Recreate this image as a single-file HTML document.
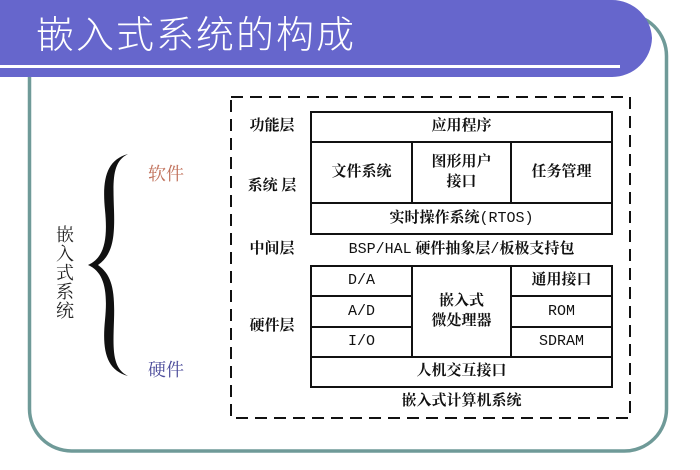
<!DOCTYPE html>
<html><head><meta charset="utf-8"><style>
body{margin:0;width:700px;height:470px;background:#fff;overflow:hidden;position:relative;font-family:"Liberation Serif","Noto Serif CJK SC",serif;}
.a{position:absolute}
.c{position:absolute;display:flex;align-items:center;justify-content:center;text-align:center;font-size:15px;color:#111;line-height:1.3;font-weight:bold}
.m{font-family:"Liberation Mono","Noto Serif CJK SC",monospace;font-weight:normal;font-size:15px}
</style></head><body>
<svg class="a" style="left:0;top:0" width="700" height="470">
<rect x="29.5" y="14" width="637" height="437" rx="42" fill="none" stroke="#6f9a98" stroke-width="3.5"/>
<path d="M0 0 H612 A40 40 0 0 1 652 38 A40 40 0 0 1 612 77 H0 Z" fill="#6666cc"/>
<rect x="0" y="65" width="620" height="3" fill="#fff"/>
<rect x="231" y="97" width="399" height="321" fill="none" stroke="#111" stroke-width="2" stroke-dasharray="12,7"/>
<g fill="none" stroke="#111" stroke-width="2">
<rect x="311" y="112" width="301" height="122"/>
<line x1="311" y1="142" x2="612" y2="142"/><line x1="311" y1="203" x2="612" y2="203"/>
<line x1="412" y1="142" x2="412" y2="203"/><line x1="511" y1="142" x2="511" y2="203"/>
<rect x="311" y="266" width="301" height="121"/>
<line x1="311" y1="357" x2="612" y2="357"/>
<line x1="412" y1="266" x2="412" y2="357"/><line x1="511" y1="266" x2="511" y2="357"/>
<line x1="311" y1="296" x2="412" y2="296"/><line x1="311" y1="327" x2="412" y2="327"/>
<line x1="511" y1="296" x2="612" y2="296"/><line x1="511" y1="327" x2="612" y2="327"/>
</g>
<path d="M128 154 C106 160 102 180 105 210 C108 240 104 258 88 265 C104 272 108 290 105 320 C102 350 106 370 128 376 C112 368 113 350 114 320 C115 290 112 275 98 265 C112 255 115 240 114 210 C113 180 112 162 128 154 Z" fill="#111"/>
</svg>
<div class="a" style="left:36px;top:4px;font-size:38px;color:#fff;letter-spacing:2px;font-family:'Liberation Sans','Noto Sans CJK SC',sans-serif;font-weight:300">嵌入式系统的构成</div>
<div class="a" style="left:148px;top:160px;font-size:18px;color:#c0705a">软件</div>
<div class="a" style="left:148px;top:356px;font-size:18px;color:#4a4a9a">硬件</div>
<div class="a" style="left:56px;top:226px;width:20px;font-size:18px;line-height:19px;color:#222">嵌入式系统</div>
<div class="c" style="left:240px;top:112px;width:64px;height:30px">功能层</div>
<div class="c" style="left:240px;top:172px;width:64px;height:30px">系统 层</div>
<div class="c" style="left:240px;top:235px;width:64px;height:30px">中间层</div>
<div class="c" style="left:240px;top:312px;width:64px;height:30px">硬件层</div>
<div class="c" style="left:311px;top:112px;width:301px;height:30px">应用程序</div>
<div class="c" style="left:311px;top:142px;width:101px;height:61px">文件系统</div>
<div class="c" style="left:412px;top:142px;width:99px;height:61px">图形用户<br>接口</div>
<div class="c" style="left:511px;top:142px;width:101px;height:61px">任务管理</div>
<div class="c" style="left:311px;top:203px;width:301px;height:31px">实时操作系统<span class="m">(RTOS)</span></div>
<div class="c" style="left:311px;top:235px;width:301px;height:30px"><span class="m">BSP/HAL</span>&nbsp;硬件抽象层<span class="m">/</span>板极支持包</div>
<div class="c m" style="left:311px;top:266px;width:101px;height:30px">D/A</div>
<div class="c m" style="left:311px;top:296px;width:101px;height:31px">A/D</div>
<div class="c m" style="left:311px;top:327px;width:101px;height:30px">I/O</div>
<div class="c" style="left:412px;top:266px;width:99px;height:91px">嵌入式<br>微处理器</div>
<div class="c" style="left:511px;top:266px;width:101px;height:30px">通用接口</div>
<div class="c m" style="left:511px;top:296px;width:101px;height:31px">ROM</div>
<div class="c m" style="left:511px;top:327px;width:101px;height:30px">SDRAM</div>
<div class="c" style="left:311px;top:357px;width:301px;height:30px">人机交互接口</div>
<div class="c" style="left:311px;top:388px;width:301px;height:28px">嵌入式计算机系统</div>
</body></html>
